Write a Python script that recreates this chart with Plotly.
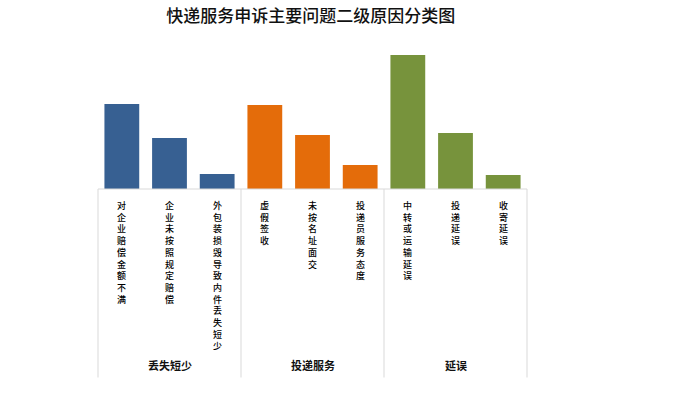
import plotly.graph_objects as go

groups = ["丢失短少", "投递服务", "延误"]
categories = [
    ["对企业赔偿金额不满", "企业未按照规定赔偿", "外包装损毁导致内件丢失短少"],
    ["虚假签收", "未按名址面交", "投递员服务态度"],
    ["中转或运输延误", "投递延误", "收寄延误"],
]
values = [
    [85, 51, 15],
    [84, 54, 24],
    [134, 56, 14],
]
colors = ["#376092", "#E46C0A", "#77933C"]

FONT = "Noto Sans CJK SC"
fig = go.Figure()

all_cats = [c for g in categories for c in g]
n_total = len(all_cats)

for g, cats, vals, col in zip(groups, categories, values, colors):
    fig.add_trace(go.Bar(x=cats, y=vals, marker=dict(color=col, line=dict(width=0)),
                         name=g, showlegend=False, hoverinfo="x+y"))

annotations = []
for c in all_cats:
    annotations.append(dict(
        x=c, xref="x", y=-0.055, yref="paper", yanchor="top", xanchor="center",
        text="<br>".join(list(c)), showarrow=False,
        font=dict(family=FONT, size=9, color="#000", weight=500)))

shapes = []
idx = 0
bounds = [0]
for cats in categories:
    idx += len(cats)
    bounds.append(idx)
for gi, g in enumerate(groups):
    mid = (bounds[gi] + bounds[gi + 1]) / 2 / n_total
    annotations.append(dict(
        x=mid, xref="paper", y=-1.18, yref="paper", yanchor="middle", xanchor="center",
        text=g, showarrow=False, font=dict(family=FONT, size=11, color="#111", weight="bold")))
for b in bounds:
    shapes.append(dict(type="line", xref="paper", yref="paper", x0=b / n_total, x1=b / n_total,
                       y0=0, y1=-1.265, line=dict(color="#D9D9D9", width=1)))
shapes.append(dict(type="line", xref="paper", yref="paper", x0=0, x1=1, y0=0, y1=0,
                   line=dict(color="#D9D9D9", width=1)))

fig.update_layout(
    width=700, height=399,
    margin=dict(l=98, r=173, t=40, b=210),
    paper_bgcolor="white", plot_bgcolor="white",
    title=dict(text="快递服务申诉主要问题二级原因分类图", x=0.444, xanchor="center",
               y=0.96, yanchor="middle",
               font=dict(family=FONT, size=17, color="#111", weight=500)),
    bargap=0.27,
    xaxis=dict(categoryorder="array", categoryarray=all_cats, range=[-0.5, n_total - 0.5],
               showticklabels=False, showline=False, showgrid=False, zeroline=False, ticks=""),
    yaxis=dict(range=[0, 149], visible=False, showgrid=False, zeroline=False),
    annotations=annotations, shapes=shapes,
)

fig.write_html("out.html")
